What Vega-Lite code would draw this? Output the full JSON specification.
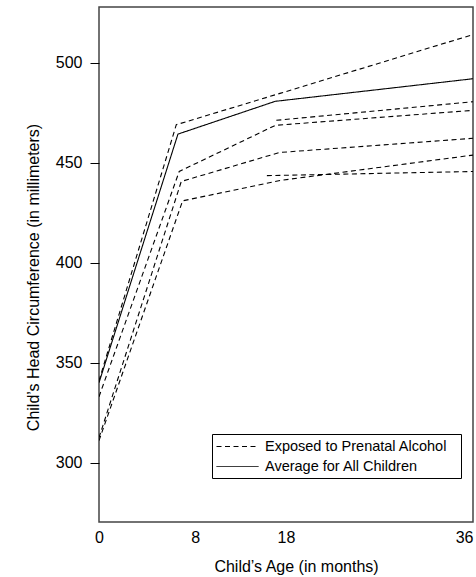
{
  "$schema": "https://vega.github.io/schema/vega-lite/v6.json",
  "autosize": "none",
  "width": 374,
  "height": 515,
  "padding": {"left": 99, "top": 7, "right": 3, "bottom": 55},
  "background": "white",
  "config": {
    "font": "Liberation Sans",
    "view": {"stroke": "#444", "strokeWidth": 1.5},
    "axis": {"grid": false, "domain": false, "labelColor": "black", "titleColor": "black", "labelFont": "Liberation Sans", "titleFont": "Liberation Sans", "titleFontWeight": "normal"}
  },
  "data": {
    "values": [
      {"id": "A", "group": "Average for All Children", "age": 0, "hc": 340},
      {"id": "A", "group": "Average for All Children", "age": 7.6, "hc": 464.4},
      {"id": "A", "group": "Average for All Children", "age": 16.96, "hc": 480.8},
      {"id": "A", "group": "Average for All Children", "age": 36, "hc": 492.1},
      {"id": "E1", "group": "Exposed to Prenatal Alcohol", "age": 0, "hc": 341},
      {"id": "E1", "group": "Exposed to Prenatal Alcohol", "age": 7.44, "hc": 469.1},
      {"id": "E1", "group": "Exposed to Prenatal Alcohol", "age": 17.5, "hc": 484.9},
      {"id": "E1", "group": "Exposed to Prenatal Alcohol", "age": 36, "hc": 514.2},
      {"id": "E2", "group": "Exposed to Prenatal Alcohol", "age": 0, "hc": 333},
      {"id": "E2", "group": "Exposed to Prenatal Alcohol", "age": 7.72, "hc": 445.7},
      {"id": "E2", "group": "Exposed to Prenatal Alcohol", "age": 16.99, "hc": 468.8},
      {"id": "E2", "group": "Exposed to Prenatal Alcohol", "age": 36, "hc": 476.3},
      {"id": "E3", "group": "Exposed to Prenatal Alcohol", "age": 17.07, "hc": 471.3},
      {"id": "E3", "group": "Exposed to Prenatal Alcohol", "age": 36, "hc": 480.6},
      {"id": "E4", "group": "Exposed to Prenatal Alcohol", "age": 0, "hc": 312.5},
      {"id": "E4", "group": "Exposed to Prenatal Alcohol", "age": 7.92, "hc": 440.7},
      {"id": "E4", "group": "Exposed to Prenatal Alcohol", "age": 17.37, "hc": 455.2},
      {"id": "E4", "group": "Exposed to Prenatal Alcohol", "age": 36, "hc": 462.3},
      {"id": "E5", "group": "Exposed to Prenatal Alcohol", "age": 0, "hc": 311},
      {"id": "E5", "group": "Exposed to Prenatal Alcohol", "age": 8.05, "hc": 431.0},
      {"id": "E5", "group": "Exposed to Prenatal Alcohol", "age": 17.44, "hc": 441.2},
      {"id": "E5", "group": "Exposed to Prenatal Alcohol", "age": 36, "hc": 453.9},
      {"id": "E6", "group": "Exposed to Prenatal Alcohol", "age": 16.16, "hc": 443.6},
      {"id": "E6", "group": "Exposed to Prenatal Alcohol", "age": 36, "hc": 445.7}
    ]
  },
  "mark": {"type": "line", "color": "black", "strokeWidth": 1.1, "clip": true},
  "encoding": {
    "x": {
      "field": "age", "type": "quantitative",
      "scale": {"domain": [0, 36], "nice": false, "zero": false},
      "axis": {
        "values": [0, 8, 18, 36],
        "ticks": false,
        "labelFontSize": 16,
        "labelPadding": 7,
        "labelOffset": {"condition": {"test": "datum.value == 8", "value": 13}, "value": 0},
        "labelAlign": {"condition": {"test": "datum.value == 36", "value": "right"}, "value": "center"},
        "labelFlush": false,
        "title": "Child\u2019s Age (in months)",
        "titleFontSize": 16,
        "titlePadding": 13,
        "titleX": 197
      }
    },
    "y": {
      "field": "hc", "type": "quantitative",
      "scale": {"domain": [270.3, 528], "nice": false, "zero": false},
      "axis": {
        "values": [300, 350, 400, 450, 500],
        "tickSize": 9,
        "tickColor": "black",
        "tickWidth": 1,
        "labelFontSize": 16,
        "labelPadding": 8,
        "title": "Child\u2019s Head Circumference (in millimeters)",
        "titleFontSize": 16,
        "titlePadding": 14,
        "titleY": 270
      }
    },
    "detail": {"field": "id"},
    "strokeDash": {
      "field": "group", "type": "nominal",
      "scale": {"domain": ["Exposed to Prenatal Alcohol", "Average for All Children"], "range": [[5, 3.5], [1, 0]]},
      "legend": {
        "title": "\u00a0",
        "titleOrient": "right",
        "titlePadding": 9,
        "titleFontSize": 11,
        "orient": "none",
        "legendX": 113,
        "legendY": 427,
        "fillColor": "white",
        "strokeColor": "black",
        "padding": 5,
        "symbolType": "M-3,0H3",
        "symbolSize": 196,
        "symbolFillColor": "transparent",
        "symbolStrokeColor": "black",
        "symbolStrokeWidth": 1,
        "symbolOffset": 13,
        "labelFontSize": 14.5,
        "labelColor": "black",
        "labelFont": "Liberation Sans",
        "labelOffset": 20,
        "rowPadding": 5,
        "labelLimit": 400
      }
    }
  }
}
